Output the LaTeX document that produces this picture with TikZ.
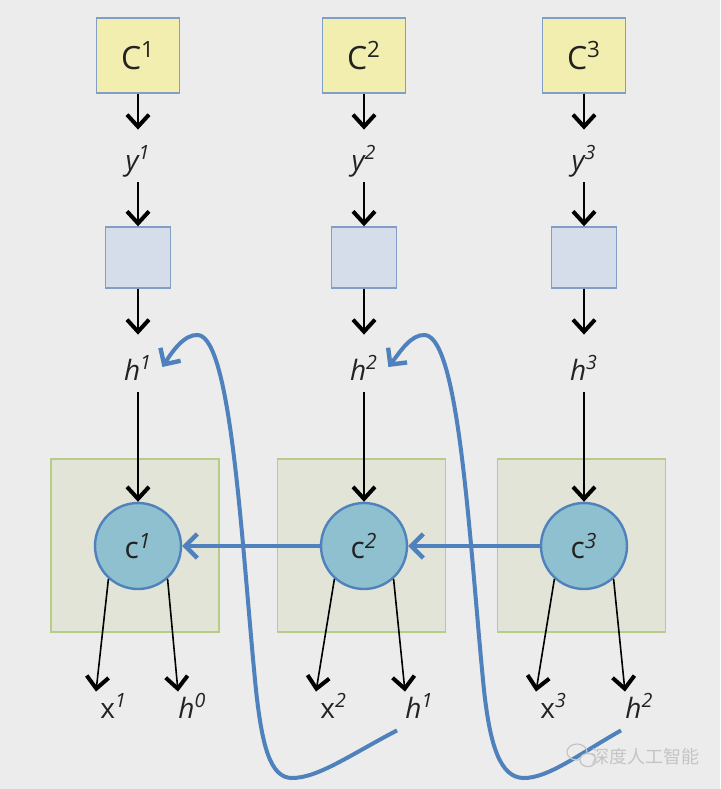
\documentclass[tikz,border=0pt]{standalone}
\usepackage{fontspec}
\setmainfont{Open Sans}
\newfontfamily\cjkfont{Noto Sans CJK SC}
\usetikzlibrary{arrows.meta}

\definecolor{bgcol}{RGB}{236,236,236}
\definecolor{yellowfill}{RGB}{242,238,176}
\definecolor{boxline}{RGB}{128,158,198}
\definecolor{hfill}{RGB}{212,221,233}
\definecolor{framefill}{RGB}{225,228,214}
\definecolor{framecol}{RGB}{184,204,138}
\definecolor{cellfill}{RGB}{143,192,208}
\definecolor{blueline}{RGB}{79,129,189}
\definecolor{txtcol}{RGB}{34,34,34}
\definecolor{markcol}{RGB}{196,196,196}

\tikzset{
	cbox/.style={draw=boxline, line width=0.7pt, fill=yellowfill, minimum width=41.5pt, minimum height=37.5pt, text=txtcol, font=\fontsize{16}{18}\selectfont},
	hbox/.style={draw=boxline, line width=0.7pt, fill=hfill, minimum width=32.5pt, minimum height=30.5pt},
	cellframe/.style={draw=framecol, line width=0.7pt, fill=framefill, minimum width=84pt, minimum height=86.5pt},
	cell/.style={circle, draw=blueline, line width=1.2pt, fill=cellfill, minimum size=43pt, inner sep=0pt, text=txtcol, font=\fontsize{15}{18}\selectfont},
	lbl/.style={inner xsep=0pt, inner ysep=3pt, text height=10pt, text depth=3pt, text=txtcol, font=\fontsize{14}{16}\selectfont},
	arr/.style={line width=1.2pt, -{Straight Barb[length=6pt,width=11pt,line width=2pt]}},
	thinarr/.style={line width=0.8pt, -{Straight Barb[length=6pt,width=11pt,line width=2pt]}},
	feedback/.style={draw=blueline, line width=2pt, -{Straight Barb[length=6pt,width=12pt,line width=2.2pt]}}
}

\begin{document}
\begin{tikzpicture}[x=0.5pt, y=-0.5pt]
		\fill[bgcol] (0,0) rectangle (720,789);
		\useasboundingbox (0,0) rectangle (720,789);
		
		\node[cbox] (cbox1) at (138,55.5) {C\textsuperscript{1}};
		\node[cbox] (cbox2) at (364,55.5) {C\textsuperscript{2}};
		\node[cbox] (cbox3) at (584,55.5) {C\textsuperscript{3}};
		
		\node[lbl] (y1) at (138,163) {\itshape y\textsuperscript{1}};
		\node[lbl] (y2) at (364,163) {\itshape y\textsuperscript{2}};
		\node[lbl] (y3) at (584,163) {\itshape y\textsuperscript{3}};
		
		\node[hbox] (hbox1) at (138,257.5) {};
		\node[hbox] (hbox2) at (364,257.5) {};
		\node[hbox] (hbox3) at (584,257.5) {};
		
		\node[lbl] (h1) at (138,373) {\itshape h\textsuperscript{1}};
		\node[lbl] (h2) at (364,373) {\itshape h\textsuperscript{2}};
		\node[lbl] (h3) at (584,373) {\itshape h\textsuperscript{3}};
		
		\node[cellframe] (frame1) at (135,545.5) {};
		\node[cellframe] (frame2) at (361.5,545.5) {};
		\node[cellframe] (frame3) at (581.5,545.5) {};
		
		\node[cell] (c1) at (138,546) {c\textsuperscript{\itshape 1}};
		\node[cell] (c2) at (364,546) {c\textsuperscript{\itshape 2}};
		\node[cell] (c3) at (584,546) {c\textsuperscript{\itshape 3}};
		
		\node[lbl, anchor=base west] (x1) at (100,718) {x\textsuperscript{\itshape 1}};
		\node[lbl, anchor=base west] (hprev1) at (178,718) {\itshape h\textsuperscript{0}};
		\node[lbl, anchor=base west] (x2) at (320,718) {x\textsuperscript{\itshape 2}};
		\node[lbl, anchor=base west] (hprev2) at (405,718) {\itshape h\textsuperscript{1}};
		\node[lbl, anchor=base west] (x3) at (540,718) {x\textsuperscript{\itshape 3}};
		\node[lbl, anchor=base west] (hprev3) at (625,718) {\itshape h\textsuperscript{2}};
		
		% first column
		\draw[arr, shorten >=7pt] (cbox1) -- (y1);
		\draw[arr] (y1) -- (hbox1);
		\draw[arr, shorten >=9.5pt] (hbox1) -- (h1);
		\draw[thinarr] (h1) -- (c1);
		\draw[thinarr] (c1.-132) -- ([xshift=-2pt]x1.north west);
		\draw[thinarr] (c1.-48) -- (hprev1.north west);
		
		% second column
		\draw[arr, shorten >=7pt] (cbox2) -- (y2);
		\draw[arr] (y2) -- (hbox2);
		\draw[arr, shorten >=9.5pt] (hbox2) -- (h2);
		\draw[thinarr] (h2) -- (c2);
		\draw[thinarr] (c2.-132) -- ([xshift=-2pt]x2.north west);
		\draw[thinarr] (c2.-48) -- (hprev2.north west);
		
		% third column
		\draw[arr, shorten >=7pt] (cbox3) -- (y3);
		\draw[arr] (y3) -- (hbox3);
		\draw[arr, shorten >=9.5pt] (hbox3) -- (h3);
		\draw[thinarr] (h3) -- (c3);
		\draw[thinarr] (c3.-132) -- ([xshift=-2pt]x3.north west);
		\draw[thinarr] (c3.-48) -- (hprev3.north west);
		
		\draw[feedback] (c3) -- (c2);
		\draw[feedback] (c2) -- (c1);
		
		% h fed back from the output of the next cell
		\draw[feedback] ([xshift=-4pt]hprev2.south west) .. controls (350,755) and (318,778) .. (292,778)
			.. controls (270,778) and (262,745) .. (256,690)
			.. controls (242,550) and (232,338) .. (198,335)
			.. controls (184,334) and (172,352) .. ([shift={(5pt,3pt)}]h1.east);
		\draw[feedback] ([xshift=-2pt]hprev3.south west) .. controls (578,755) and (548,778) .. (524,778)
			.. controls (500,778) and (490,745) .. (484,690)
			.. controls (470,550) and (460,338) .. (425,335)
			.. controls (411,334) and (400,352) .. ([shift={(5pt,3pt)}]h2.east);
		
		% watermark
		\draw[markcol, line width=0.6pt] (577,752) ellipse (5pt and 4pt);
		\draw[markcol, line width=0.6pt, fill=bgcol] (588,760) ellipse (4pt and 3.3pt);
		\node[text=markcol, font=\cjkfont\fontsize{9}{9}\selectfont] (mark) at (645,757) {深度人工智能};
	\end{tikzpicture}
\end{document}
